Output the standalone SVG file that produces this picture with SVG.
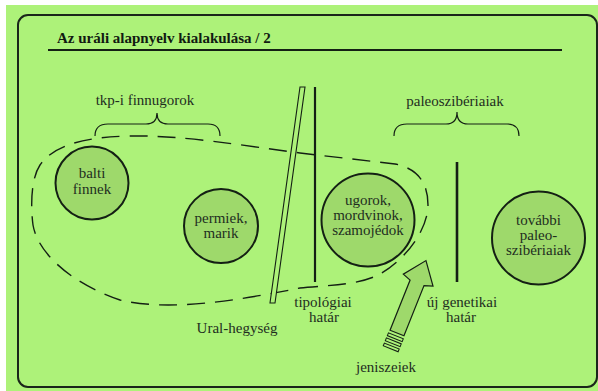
<svg xmlns="http://www.w3.org/2000/svg" width="598" height="391" viewBox="0 0 598 391">
<style>
text{font-family:'Liberation Serif','DejaVu Serif','Times New Roman',serif}
.t{font-size:15px;fill:#1f2e1f;text-anchor:middle}
.title{font-size:15px;font-weight:bold;fill:#111a11}
.node{fill:#9ed96b;stroke:#142014;stroke-width:2}
.ln{stroke:#142014;fill:none}
</style>
<rect x="0" y="0" width="598" height="391" fill="#ffffff"/>
<rect x="6" y="5" width="592" height="386" fill="#adf279"/>
<rect x="18" y="15" width="579" height="372" rx="10" ry="10" fill="none" stroke="#1a261a" stroke-width="2"/>
<text class="title" x="57" y="43" font-family="Liberation Serif, serif">Az uráli alapnyelv kialakulása / 2</text>
<line class="ln" x1="48" y1="50" x2="562" y2="50" stroke-width="2"/>

<g id="connectors">
  <path id="dashed-area" class="ln" stroke-width="1.4" stroke-dasharray="18 10" d="M 300 288 C 330 285 360 285 380 274 C 405 260 428 230 428 205 C 428 180 415 168 395 164 L 300 153 C 240 145 180 135 130 136 C 90 137 55 143 40 165 C 30 180 31 210 33 225 C 38 255 75 285 120 300 C 170 312 240 300 300 288 Z"/>
  <path id="brace-tkp" class="ln" stroke-width="1.2" d="M 95 136 C 95 128 99 124 108 124 L 146 124 C 153 124 157 120 157 113 C 157 120 161 124 168 124 L 208 124 C 216 124 220 128 220 136"/>
  <path id="brace-paleo" class="ln" stroke-width="1.2" d="M 394 136 C 394 128 398 124 407 124 L 446 124 C 453 124 457 120 457 112 C 457 120 461 124 468 124 L 507 124 C 515 124 519 128 519 136"/>
  <polygon id="ural" points="300,87 305,87 275,303 270,303" fill="#adf279" stroke="#142014" stroke-width="1.1"/>
  <line id="tipologiai" class="ln" x1="315" y1="87" x2="315" y2="282" stroke-width="2.2"/>
  <line id="genetikai" class="ln" x1="457" y1="162" x2="457" y2="282" stroke-width="2.6"/>
  <g id="arrow" transform="translate(397,333) rotate(21.8)">
    <path d="M 0 -78 L 16 -57 L 7.5 -54 L 7.5 0 L -7.5 0 L -7.5 -54 L -16 -57 Z" fill="#9ed96b" stroke="#142014" stroke-width="1.2" stroke-linejoin="miter"/>
    <rect x="-8" y="3" width="16" height="3" fill="#adf279" stroke="#142014" stroke-width="1"/>
    <rect x="-8" y="8.5" width="16" height="3" fill="#adf279" stroke="#142014" stroke-width="1"/>
    <rect x="-8" y="14" width="16" height="3" fill="#adf279" stroke="#142014" stroke-width="1"/>
  </g>
</g>

<g id="balti">
  <circle class="node" cx="92" cy="183" r="36.5"/>
  <text class="t" x="92" y="178">balti</text>
  <text class="t" x="92" y="194">finnek</text>
</g>
<g id="permiek">
  <circle class="node" cx="221" cy="226" r="37"/>
  <text class="t" x="221" y="223">permiek,</text>
  <text class="t" x="221" y="238">marik</text>
</g>
<g id="ugorok">
  <circle class="node" cx="368" cy="220" r="46.5"/>
  <text class="t" x="368" y="205">ugorok,</text>
  <text class="t" x="368" y="220">mordvinok,</text>
  <text class="t" x="368" y="235">szamojédok</text>
</g>
<g id="tovabbi">
  <circle class="node" cx="538.5" cy="238" r="46.5"/>
  <text class="t" x="538.5" y="225">további</text>
  <text class="t" x="538.5" y="240">paleo-</text>
  <text class="t" x="538.5" y="255">szibériaiak</text>
</g>

<g id="labels">
  <text class="t" x="145" y="105">tkp-i finnugorok</text>
  <text class="t" x="455" y="106">paleoszibériaiak</text>
  <text class="t" x="237" y="333">Ural-hegység</text>
  <text class="t" x="323" y="307">tipológiai</text>
  <text class="t" x="324" y="322">határ</text>
  <text class="t" x="462" y="307">új genetikai</text>
  <text class="t" x="461" y="322">határ</text>
  <text class="t" x="386" y="372">jeniszeiek</text>
</g>
</svg>
